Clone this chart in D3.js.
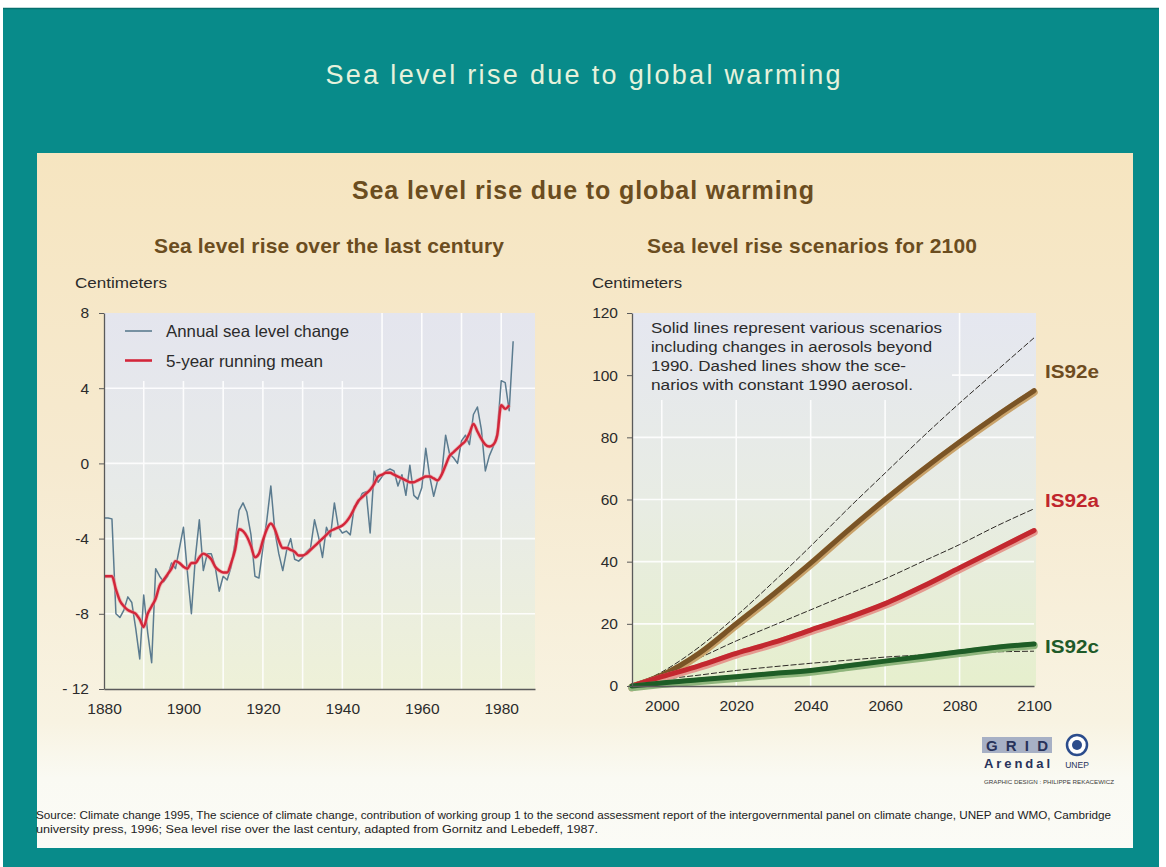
<!DOCTYPE html>
<html>
<head>
<meta charset="utf-8">
<script src="https://cdn.jsdelivr.net/npm/d3@7"></script>
<style>
  body { margin: 0; background: #fff; }
  svg { display: block; }
  text { font-family: "Liberation Sans", Arial, Helvetica, sans-serif; }
</style>
</head>
<body>
<svg id="chart" width="1166" height="867"></svg>
<script>
// ---------- Sea level rise over the last century (cm) ----------
const annualYears = [
  1880,1881,1882,1883,1884,1885,1886,1887,1888,1889,
  1890,1891,1892,1893,1894,1895,1896,1897,1898,1899,
  1900,1901,1902,1903,1904,1905,1906,1907,1908,1909,
  1910,1911,1912,1913,1914,1915,1916,1917,1918,1919,
  1920,1921,1922,1923,1924,1925,1926,1927,1928,1929,
  1930,1931,1932,1933,1934,1935,1936,1937,1938,1939,
  1940,1941,1942,1943,1944,1945,1946,1947,1948,1949,
  1950,1951,1952,1953,1954,1955,1956,1957,1958,1959,
  1960,1961,1962,1963,1964,1965,1966,1967,1968,1969,
  1970,1971,1972,1973,1974,1975,1976,1977,1978,1979,
  1980,1981,1982,1983
];
const annualChange = [
  -2.9,-2.9,-2.95,-8.0,-8.2,-7.8,-7.1,-7.4,-8.8,-10.4,
  -7.0,-9.0,-10.6,-5.6,-6.0,-6.3,-6.0,-5.3,-5.6,-4.5,
  -3.4,-5.8,-8.0,-5.0,-3.0,-5.7,-4.8,-4.8,-5.5,-6.8,
  -6.0,-6.2,-5.5,-4.2,-2.5,-2.1,-2.6,-3.8,-6.0,-6.1,
  -4.5,-3.0,-1.2,-3.6,-4.8,-5.7,-4.6,-4.0,-5.1,-5.2,
  -5.0,-4.7,-4.5,-3.0,-3.9,-5.0,-3.4,-3.9,-2.1,-3.4,
  -3.7,-3.6,-3.8,-2.3,-2.1,-1.6,-1.5,-3.7,-0.4,-1.0,
  -0.7,-0.4,-0.3,-0.4,-1.2,-0.6,-1.7,-0.1,-1.7,-1.9,
  -1.3,0.8,-0.7,-1.75,-0.9,-0.6,1.5,0.5,0.3,0.0,
  1.2,1.5,1.0,2.6,3.0,1.8,-0.4,0.4,0.9,1.6,
  4.4,4.3,2.8,6.5
];
const meanYears = annualYears.slice(0, 103);
const runningMean = [
  -6.0,-6.0,-6.0,-6.7,-7.3,-7.6,-7.8,-7.9,-8.0,-8.3,
  -8.7,-8.0,-7.6,-7.2,-6.5,-6.2,-5.9,-5.6,-5.2,-5.3,
  -5.5,-5.6,-5.3,-5.3,-5.0,-4.8,-4.9,-5.1,-5.5,-5.7,
  -5.8,-5.8,-5.3,-4.6,-3.5,-3.6,-3.9,-4.4,-5.0,-4.8,
  -4.1,-3.5,-3.2,-3.5,-4.1,-4.5,-4.5,-4.6,-4.7,-4.9,
  -4.9,-4.8,-4.6,-4.4,-4.2,-4.0,-3.8,-3.6,-3.5,-3.4,
  -3.3,-3.1,-2.8,-2.4,-2.0,-1.8,-1.6,-1.4,-1.1,-0.7,
  -0.6,-0.5,-0.5,-0.6,-0.7,-0.8,-0.9,-1.0,-1.0,-0.9,
  -0.8,-0.7,-0.7,-0.8,-0.9,-0.6,-0.1,0.4,0.6,0.8,
  1.0,1.2,1.6,2.1,1.7,1.3,1.0,0.9,1.0,1.5,
  3.1,2.9,3.1
];
const leftYTicks = [-12, -8, -4, 0, 4, 8];
const leftYLabels = ["- 12", "-8", "-4", "0", "4", "8"];
const leftXTicks = [1880, 1900, 1920, 1940, 1960, 1980];
const leftLegend = ["Annual sea level change", "5-year running mean"];

// ---------- Sea level rise scenarios for 2100 (cm) ----------
const scenarioYears = [1992, 2000, 2010, 2020, 2030, 2040, 2050, 2060, 2070, 2080, 2090, 2100];
const is92eSolid  = [0, 3.5, 10.5, 20, 29.5, 39.5, 50, 60, 69.5, 78.5, 87, 95];
const is92eDashed = [0, 4.5, 12.5, 22.5, 33.5, 45, 57, 68.5, 80, 91, 101.5, 112];
const is92aSolid  = [0, 3, 6.5, 10.5, 14, 18, 22, 26.5, 32, 38, 44, 50];
const is92aDashed = [0, 4, 9, 14.5, 19.5, 24.5, 29.5, 34.5, 40, 45.5, 51.5, 57];
const is92cSolid  = [0, 1, 2, 3, 4, 5, 6.5, 8, 9.5, 11, 12.5, 13.5];
const is92cDashed = [0, 2, 3.5, 5, 6.2, 7.3, 8.3, 9.3, 10, 10.7, 11, 11.2];
const scenarioNames = ["IS92e", "IS92a", "IS92c"];
const rightYTicks = [0, 20, 40, 60, 80, 100, 120];
const rightXTicks = [2000, 2020, 2040, 2060, 2080, 2100];
const noteLines = [
  "Solid lines represent various scenarios",
  "including changes in aerosols beyond",
  "1990. Dashed lines show the sce-",
  "narios with constant 1990 aerosol."
];

const svg = d3.select("#chart");
const defs = svg.append("defs");
function vGrad(id, stops) {
  const g = defs.append("linearGradient").attr("id", id)
    .attr("x1", 0).attr("y1", 0).attr("x2", 0).attr("y2", 1);
  stops.forEach(([o, c]) => g.append("stop").attr("offset", o).attr("stop-color", c));
}
vGrad("panelGrad", [[0, "#f6e5c0"], [0.45, "#f6ead0"], [0.82, "#f8f3e2"], [0.9, "#fafaf3"], [1, "#fbfbf6"]]);
vGrad("plotGradL", [[0, "#e4e5ee"], [0.45, "#e7eae9"], [1, "#eef1d8"]]);
vGrad("plotGradR", [[0, "#e5e7f0"], [0.5, "#e8ece4"], [1, "#e6efcd"]]);

// backdrop
svg.append("rect").attr("width", 1166).attr("height", 867).attr("fill", "#ffffff");
svg.append("rect").attr("x", 3).attr("y", 8).attr("width", 1156).attr("height", 859).attr("fill", "#088b8a");
svg.append("line").attr("x1", 3).attr("x2", 1159).attr("y1", 8.5).attr("y2", 8.5).attr("stroke", "#046f6e").attr("stroke-width", 1.5);

svg.append("text").attr("x", 583).attr("y", 84).attr("text-anchor", "middle")
  .attr("font-size", 27).attr("fill", "#e6f2dc")
  .attr("textLength", 515).attr("lengthAdjust", "spacing")
  .text("Sea level rise due to global warming");

svg.append("rect").attr("x", 37).attr("y", 153).attr("width", 1096).attr("height", 695).attr("fill", "url(#panelGrad)");

const brown = "#6b4d1f";
svg.append("text").attr("x", 583).attr("y", 199).attr("text-anchor", "middle")
  .attr("font-size", 25).attr("font-weight", "bold").attr("fill", brown)
  .attr("textLength", 462).attr("lengthAdjust", "spacing")
  .text("Sea level rise due to global warming");
svg.append("text").attr("x", 329).attr("y", 253).attr("text-anchor", "middle")
  .attr("font-size", 21).attr("font-weight", "bold").attr("fill", brown)
  .attr("textLength", 350).attr("lengthAdjust", "spacing")
  .text("Sea level rise over the last century");
svg.append("text").attr("x", 812).attr("y", 253).attr("text-anchor", "middle")
  .attr("font-size", 21).attr("font-weight", "bold").attr("fill", brown)
  .attr("textLength", 330).attr("lengthAdjust", "spacing")
  .text("Sea level rise scenarios for 2100");

// ================= left chart =================
const L = { x0: 104, x1: 535, y0: 313, y1: 689 };
const xL = d3.scaleLinear().domain([1880, 1988.5]).range([L.x0, L.x1]);
const yL = d3.scaleLinear().domain([-12, 8]).range([L.y1, L.y0]);
const gL = svg.append("g");
gL.append("rect").attr("x", L.x0).attr("y", L.y0).attr("width", L.x1 - L.x0).attr("height", L.y1 - L.y0)
  .attr("fill", "url(#plotGradL)");

const legendBottomL = 381, legendRightL = 372;
const gridL = gL.append("g").attr("stroke", "#ffffff").attr("stroke-width", 1.6).attr("opacity", 0.9);
[1890, 1900, 1910, 1920, 1930, 1940, 1950, 1960, 1970, 1980].forEach(yr => {
  const x = xL(yr);
  gridL.append("line").attr("x1", x).attr("x2", x)
    .attr("y1", x < legendRightL ? legendBottomL : L.y0).attr("y2", L.y1);
});
[-8, -4, 0, 4].forEach(v => {
  gridL.append("line").attr("x1", L.x0).attr("x2", L.x1).attr("y1", yL(v)).attr("y2", yL(v));
});

gL.append("path")
  .datum(annualYears.map((y, i) => [y, annualChange[i]]))
  .attr("fill", "none").attr("stroke", "#5b7b8f").attr("stroke-width", 1.5).attr("stroke-linejoin", "round")
  .attr("d", d3.line().x(d => xL(d[0])).y(d => yL(d[1])));
const meanLine = d3.line().x(d => xL(d[0])).y(d => yL(d[1])).curve(d3.curveMonotoneX);
const meanData = meanYears.map((y, i) => [y, runningMean[i]]);
gL.append("path").datum(meanData)
  .attr("fill", "none").attr("stroke", "#ee8f93").attr("stroke-width", 4).attr("opacity", 0.55)
  .attr("d", meanLine);
gL.append("path").datum(meanData)
  .attr("fill", "none").attr("stroke", "#d3263a").attr("stroke-width", 2.4).attr("stroke-linejoin", "round")
  .attr("d", meanLine);

// legend
const legColors = ["#5b7b8f", "#d3263a"];
leftLegend.forEach((t, i) => {
  const y = 331 + i * 29.5;
  gL.append("line").attr("x1", 125).attr("x2", 152).attr("y1", y).attr("y2", y)
    .attr("stroke", legColors[i]).attr("stroke-width", i ? 2.6 : 1.6);
  gL.append("text").attr("x", 166).attr("y", y + 6).attr("font-size", 16.5).attr("fill", "#2b2b2b")
    .attr("textLength", i ? 157 : 183).attr("lengthAdjust", "spacingAndGlyphs").text(t);
});

// axes
const axisStyle = g => {
  g.select(".domain").attr("stroke", "#5a5a5a").attr("stroke-width", 1.3);
  g.selectAll(".tick line").attr("stroke", "#5a5a5a");
  g.selectAll("text").attr("font-family", "\"Liberation Sans\", Arial, sans-serif")
    .attr("font-size", 15.5).attr("fill", "#2b2b2b");
};
gL.append("g").attr("transform", `translate(${L.x0},0)`)
  .call(d3.axisLeft(yL).tickValues(leftYTicks).tickFormat((d, i) => leftYLabels[i])
    .tickSize(5).tickSizeOuter(0).tickPadding(10))
  .call(axisStyle);
gL.append("g").attr("transform", `translate(0,${L.y1})`)
  .call(d3.axisBottom(xL).tickValues(leftXTicks).tickFormat(d3.format("d"))
    .tickSize(0).tickSizeOuter(0).tickPadding(14))
  .call(axisStyle);
gL.append("text").attr("x", 75).attr("y", 288).attr("font-size", 14.5).attr("fill", "#2b2b2b")
  .attr("textLength", 92).attr("lengthAdjust", "spacingAndGlyphs").text("Centimeters");

// ================= right chart =================
const R = { x0: 632, x1: 1034, y0: 313, y1: 686 };
const xR = d3.scaleLinear().domain([1992, 2100]).range([R.x0, R.x1]);
const yR = d3.scaleLinear().domain([0, 120]).range([R.y1, R.y0]);
const gR = svg.append("g");
gR.append("rect").attr("x", R.x0).attr("y", R.y0).attr("width", R.x1 - R.x0 + 2).attr("height", R.y1 - R.y0)
  .attr("fill", "url(#plotGradR)");

const noteBottom = 400, noteRight = 952;
const gridR = gR.append("g").attr("stroke", "#ffffff").attr("stroke-width", 1.6).attr("opacity", 0.9);
[2000, 2020, 2040, 2060, 2080].forEach(yr => {
  const x = xR(yr);
  gridR.append("line").attr("x1", x).attr("x2", x)
    .attr("y1", x < noteRight ? noteBottom : R.y0).attr("y2", R.y1);
});
[20, 40, 60, 80, 100].forEach(v => {
  const y = yR(v);
  gridR.append("line").attr("x1", y < noteBottom ? noteRight : R.x0).attr("x2", R.x1)
    .attr("y1", y).attr("y2", y);
});

const scen = d3.line().x((d, i) => xR(scenarioYears[i])).y(d => yR(d)).curve(d3.curveMonotoneX);
const solids = [
  { v: is92eSolid, c: "#7a5426", h: "#c9a36b" },
  { v: is92aSolid, c: "#c3282f", h: "#e59a90" },
  { v: is92cSolid, c: "#1e5d26", h: "#8fb57c" }
];
[is92eDashed, is92aDashed, is92cDashed].forEach(v => {
  gR.append("path").datum(v).attr("fill", "none")
    .attr("stroke", "#2e2a26").attr("stroke-width", 1).attr("stroke-dasharray", "6,2")
    .attr("d", scen);
});
solids.forEach(s => {
  gR.append("path").datum(s.v).attr("fill", "none")
    .attr("stroke", s.h).attr("stroke-width", 7.5).attr("stroke-linecap", "round")
    .attr("transform", "translate(0,1.5)").attr("d", scen);
  gR.append("path").datum(s.v).attr("fill", "none")
    .attr("stroke", s.c).attr("stroke-width", 5).attr("stroke-linecap", "round")
    .attr("d", scen);
});

// scenario labels beside the line ends (vertical centre given in cm)
const labelColors = ["#6e4c1f", "#c0262d", "#1f5a29"];
const labelAt = [101, 59.5, 12.5];
scenarioNames.forEach((n, i) => {
  gR.append("text").attr("x", 1045).attr("y", yR(labelAt[i]) + 6)
    .attr("font-size", 17.5).attr("font-weight", "bold").attr("fill", labelColors[i])
    .attr("textLength", 54).attr("lengthAdjust", "spacingAndGlyphs").text(n);
});

// note
const noteWidths = [291, 281, 255, 262];
noteLines.forEach((t, i) => {
  gR.append("text").attr("x", 651).attr("y", 333 + i * 19).attr("font-size", 15.5).attr("fill", "#2b2b2b")
    .attr("textLength", noteWidths[i]).attr("lengthAdjust", "spacingAndGlyphs").text(t);
});

gR.append("g").attr("transform", `translate(${R.x0},0)`)
  .call(d3.axisLeft(yR).tickValues(rightYTicks).tickFormat(d3.format("d"))
    .tickSize(5).tickSizeOuter(0).tickPadding(9))
  .call(axisStyle);
gR.append("g").attr("transform", `translate(0,${R.y1})`)
  .call(d3.axisBottom(xR).tickValues(rightXTicks).tickFormat(d3.format("d"))
    .tickSize(0).tickSizeOuter(0).tickPadding(14))
  .call(axisStyle);
gR.append("text").attr("x", 592).attr("y", 288).attr("font-size", 14.5).attr("fill", "#2b2b2b")
  .attr("textLength", 90).attr("lengthAdjust", "spacingAndGlyphs").text("Centimeters");

// ================= credits =================
const gC = svg.append("g");
gC.append("rect").attr("x", 982).attr("y", 737).attr("width", 70).attr("height", 16).attr("fill", "#a7b0c5");
gC.append("text").attr("x", 1017).attr("y", 751).attr("text-anchor", "middle")
  .attr("font-family", "\"Liberation Serif\", serif").attr("font-weight", "bold").attr("font-size", 15)
  .attr("fill", "#27325a").attr("textLength", 62).attr("lengthAdjust", "spacing").text("GRID");
gC.append("text").attr("x", 984).attr("y", 768)
  .attr("font-family", "\"Liberation Serif\", serif").attr("font-weight", "bold").attr("font-size", 13)
  .attr("fill", "#27325a").attr("textLength", 66).attr("lengthAdjust", "spacing").text("Arendal");
gC.append("circle").attr("cx", 1077).attr("cy", 745).attr("r", 10).attr("fill", "#ffffff")
  .attr("stroke", "#2b4c8c").attr("stroke-width", 2.5);
gC.append("circle").attr("cx", 1077).attr("cy", 745).attr("r", 5).attr("fill", "#2b4c8c");
gC.append("text").attr("x", 1077).attr("y", 768).attr("text-anchor", "middle")
  .attr("font-family", "\"Liberation Serif\", serif").attr("font-size", 8.5)
  .attr("fill", "#27325a").text("UNEP");
gC.append("text").attr("x", 984).attr("y", 784).attr("font-size", 6)
  .attr("fill", "#3a3a3a").attr("textLength", 130).attr("lengthAdjust", "spacingAndGlyphs")
  .text("GRAPHIC DESIGN : PHILIPPE REKACEWICZ");

gC.append("text").attr("x", 36).attr("y", 819).attr("font-size", 11).attr("fill", "#222")
  .attr("textLength", 1075).attr("lengthAdjust", "spacingAndGlyphs")
  .text("Source: Climate change 1995, The science of climate change, contribution of working group 1 to the second assessment report of the intergovernmental panel on climate change, UNEP and WMO, Cambridge");
gC.append("text").attr("x", 36).attr("y", 833).attr("font-size", 11).attr("fill", "#222")
  .attr("textLength", 562).attr("lengthAdjust", "spacingAndGlyphs")
  .text("university press,  1996; Sea level rise over the last century, adapted from Gornitz and Lebedeff, 1987.");
</script>
</body>
</html>
